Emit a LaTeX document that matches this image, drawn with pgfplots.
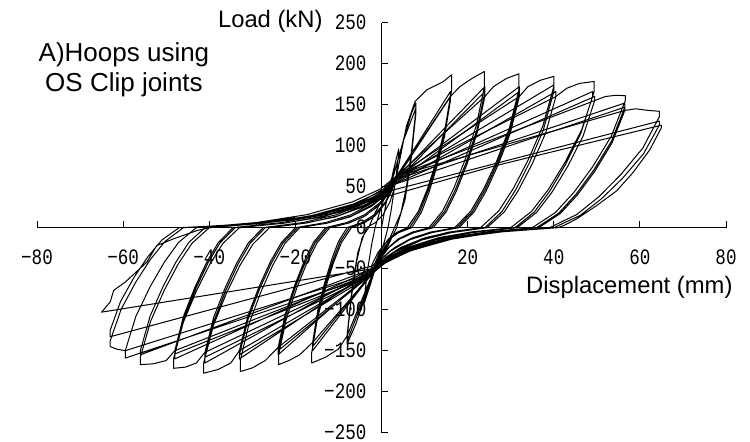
\documentclass[border=0pt]{standalone}
\usepackage{fontspec}
\setmainfont{Liberation Sans}
\newfontfamily\tickfont[FakeStretch=0.8]{Liberation Mono}
\usepackage{pgfplots}
\pgfplotsset{compat=1.18}
\pgfplotsset{cyc/.style={black, line width=0.5pt, line join=round, mark=none}}
\begin{document}
\begin{tikzpicture}
\path[use as bounding box] (-18.5pt,-4.5pt) rectangle (356.5pt,216.35pt);
\begin{axis}[
 at={(0,0)}, anchor=south west,
 scale only axis, width=344.5pt, height=205pt,
 xmin=-80, xmax=80, ymin=-250, ymax=250,
 axis lines=middle,
 axis line style={black, line width=0.5pt, -},
 xtick={-80,-60,...,80}, xticklabels={−80,−60,−40,−20,,20,40,60,80},
 ytick={-250,-200,...,250}, yticklabels={−250,−200,−150,−100,−50,0,50,100,150,200,250},
 hide obscured x ticks=false, hide obscured y ticks=false,
 tick align=inside, major tick length=3.2pt,
 tick style={black, line width=0.5pt},
 ticklabel style={font=\tickfont\fontsize{11}{12}\selectfont},
 xticklabel style={yshift=-7.5pt},
 yticklabel style={xshift=-4pt},
 clip=false, enlargelimits=false,
]
% small cycles and 16 mm
\addplot[cyc] coordinates {(0,0) (1,28) (2,52) (3,75) (4,96) (4,90) (3.2,55) (2.2,20) (1.5,0) (0.5,-20) (-1,-42) (-2.5,-68) (-4,-92) (-4,-86) (-3.2,-50) (-2.2,-18) (-1.5,0) (-0.5,18) (1,42) (2.5,62) (4,85) (5.5,115) (7,140) (8,152) (8,145) (7,95) (5.8,50) (4.5,18) (3,0) (1.5,-18) (0,-35) (-2,-55) (-4,-88) (-6,-118) (-8,-142) (-8,-135) (-7,-85) (-5.8,-42) (-4.5,-12) (-3,0) (-1.5,18) (0.5,38) (2.5,58) (5,105) (8,146) (8,140) (6.8,80) (5.5,35) (3.5,0) (1.5,-22) (-1,-45) (-4,-85) (-8,-138) (-8,-132) (-6.8,-72) (-5.5,-30) (-3.5,0)
(-1.4,6.3) (0.35,15.8) (1.96,31.5) (2.94,47.3) (3.5,63) (5.8,124) (7.8,154) (10.5,168) (14.3,178) (16.3,186.5) (16.3,168) (14.76,121) (12.7,80.6) (10.64,47) (8.58,20.2) (6,0) (3.6,-5.5) (1.6,-13.8) (-0.24,-27.5) (-1.36,-41.3) (-2,-55) (-8,-132) (-10,-148) (-13,-158) (-16.2,-165) (-16.2,-152) (-14.82,-109.4) (-12.98,-73) (-11.14,-42.6) (-9.3,-18.2) (-7,0)
(-4,5.8) (-1.5,14.5) (0.8,29) (2.2,43.5) (3,58) (16,166) (16,160) (14.58,115.2) (12.68,76.8) (10.78,44.8) (8.88,19.2) (6.5,0) (4.25,-4.8) (2.38,-12) (0.65,-24) (-0.4,-36) (-1,-48) (-16,-150) (-16,-145) (-14.73,-104.4) (-13.03,-69.6) (-11.33,-40.6) (-9.63,-17.4) (-7.5,0)
(-4.5,5.2) (-2,13) (0.3,26) (1.7,39) (2.5,52) (16,160) (16,155) (14.65,111.6) (12.85,74.4) (11.05,43.4) (9.25,18.6) (7,0) (4,-6) (1.5,-15) (-0.8,-30) (-2.2,-45) (-3,-60) (-16,-145) (-16,-140) (-14.8,-100.8) (-13.2,-67.2) (-11.6,-39.2) (-10,-16.8) (-8,0)};
% 24 mm
\addplot[cyc] coordinates {(-8,0) (-4.55,6.3) (-1.68,15.8) (0.97,31.5) (2.58,47.3) (3.5,63) (16,160) (18.2,172) (21,182) (23.9,190.5) (23.9,172) (21.97,123.8) (19.39,82.6) (16.8,48.2) (14.23,20.6) (11,0) (7.1,-5.5) (3.85,-13.8) (0.86,-27.5) (-0.96,-41.3) (-2,-55) (-16,-140) (-19,-155) (-21.5,-162) (-23.9,-167) (-23.9,-155) (-22.12,-111.6) (-19.74,-74.4) (-17.36,-43.4) (-14.98,-18.6) (-12,0)
(-7.5,5.8) (-3.75,14.5) (-0.3,29) (1.8,43.5) (3,58) (24,172) (24,165) (22.13,118.8) (19.63,79.2) (17.13,46.2) (14.63,19.8) (11.5,0) (7.75,-4.8) (4.63,-12) (1.75,-24) (0,-36) (-1,-48) (-24,-155) (-24,-150) (-22.28,-108) (-19.98,-72) (-17.68,-42) (-15.38,-18) (-12.5,0)
(-8,5.2) (-4.25,13) (-0.8,26) (1.3,39) (2.5,52) (24,166) (24,160) (22.2,115.2) (19.8,76.8) (17.4,44.8) (15,19.2) (12,0) (7.5,-6) (3.75,-15) (0.3,-30) (-1.8,-45) (-3,-60) (-24,-150) (-24,-146) (-22.35,-105.1) (-20.15,-70.1) (-17.95,-40.9) (-15.75,-17.5) (-13,0)};
% 32 mm
\addplot[cyc] coordinates {(-13,0) (-8.05,6.3) (-3.93,15.8) (-0.13,31.5) (2.18,47.3) (3.5,63) (24,160) (26,172) (29,182) (31.9,187.7) (31.9,168) (29.67,121) (26.69,80.6) (23.71,47) (20.73,20.2) (17,0) (11.3,-5.5) (6.55,-13.8) (2.18,-27.5) (-0.48,-41.3) (-2,-55) (-24,-146) (-27,-162) (-30,-171) (-32.8,-175.5) (-32.8,-162) (-30.73,-116.6) (-27.97,-77.8) (-25.21,-45.4) (-22.45,-19.4) (-19,0)
(-12.4,5.8) (-6.9,14.5) (-1.84,29) (1.24,43.5) (3,58) (32,172) (32,165) (29.83,118.8) (26.93,79.2) (24.03,46.2) (21.13,19.8) (17.5,0) (11.95,-4.8) (7.33,-12) (3.07,-24) (0.48,-36) (-1,-48) (-33,-160) (-33,-155) (-30.98,-111.6) (-28.28,-74.4) (-25.58,-43.4) (-22.88,-18.6) (-19.5,0)
(-12.9,5.2) (-7.4,13) (-2.34,26) (0.74,39) (2.5,52) (32,166) (32,160) (29.9,115.2) (27.1,76.8) (24.3,44.8) (21.5,19.2) (18,0) (11.7,-6) (6.45,-15) (1.62,-30) (-1.32,-45) (-3,-60) (-33,-155) (-33,-150) (-31.05,-108) (-28.45,-72) (-25.85,-42) (-23.25,-18) (-20,0)};
% 40 mm
\addplot[cyc] coordinates {(-20,0) (-12.95,6.3) (-7.08,15.8) (-1.67,31.5) (1.62,47.3) (3.5,63) (32,160) (34,172) (37,180) (40,184.5) (40,172) (37.45,123.8) (34.05,82.6) (30.65,48.2) (27.25,20.6) (23,0) (15.5,-5.5) (9.25,-13.8) (3.5,-27.5) (0,-41.3) (-2,-55) (-33,-150) (-35,-165) (-38,-173) (-41.3,-177.5) (-41.3,-165) (-39.01,-118.8) (-35.95,-79.2) (-32.89,-46.2) (-29.83,-19.8) (-26,0)
(-17.3,5.8) (-10.05,14.5) (-3.38,29) (0.68,43.5) (3,58) (40,174) (40,166) (37.6,119.5) (34.4,79.7) (31.2,46.5) (28,19.9) (24,0) (16.5,-4.8) (10.25,-12) (4.5,-24) (1,-36) (-1,-48) (-41,-165) (-41,-158) (-38.9,-113.8) (-36.1,-75.8) (-33.3,-44.2) (-30.5,-19) (-27,0)
(-18.15,5.2) (-10.78,13) (-3.99,26) (0.14,39) (2.5,52) (40.5,166) (40.5,160) (38.1,115.2) (34.9,76.8) (31.7,44.8) (28.5,19.2) (24.5,0) (16.25,-6) (9.38,-15) (3.05,-30) (-0.8,-45) (-3,-60) (-41,-158) (-41,-152) (-38.98,-109.4) (-36.28,-73) (-33.58,-42.6) (-30.88,-18.2) (-27.5,0)};
% 49 mm
\addplot[cyc] coordinates {(-27.5,0) (-18.2,6.3) (-10.45,15.8) (-3.32,31.5) (1.02,47.3) (3.5,63) (40.5,160) (43,170) (46,176) (49.4,178.4) (49.4,166) (46.49,119.5) (42.61,79.7) (38.73,46.5) (34.85,19.9) (30,0) (20.4,-5.5) (12.4,-13.8) (5.04,-27.5) (0.56,-41.3) (-2,-55) (-41,-152) (-43,-165) (-45.5,-170) (-48.3,-171.5) (-48.3,-160) (-46.01,-115.2) (-42.95,-76.8) (-39.89,-44.8) (-36.83,-19.2) (-33,0)
(-22.2,5.8) (-13.2,14.5) (-4.92,29) (0.12,43.5) (3,58) (49,166) (49,160) (46.3,115.2) (42.7,76.8) (39.1,44.8) (35.5,19.2) (31,0) (21.4,-4.8) (13.4,-12) (6.04,-24) (1.56,-36) (-1,-48) (-48,-160) (-48,-154) (-45.9,-110.9) (-43.1,-73.9) (-40.3,-43.1) (-37.5,-18.5) (-34,0)
(-23.05,5.2) (-13.93,13) (-5.53,26) (-0.42,39) (2.5,52) (49.5,160) (49.5,155) (46.8,111.6) (43.2,74.4) (39.6,43.4) (36,18.6) (31.5,0) (21.15,-6) (12.53,-15) (4.59,-30) (-0.24,-45) (-3,-60) (-48,-154) (-48,-150) (-45.98,-108) (-43.28,-72) (-40.58,-42) (-37.88,-18) (-34.5,0)};
% 57 mm
\addplot[cyc] coordinates {(-34.5,0) (-23.1,6.3) (-13.6,15.8) (-4.86,31.5) (0.46,47.3) (3.5,63) (49.5,155) (52,160) (54.5,161.5) (56.6,161) (56.6,155) (53.36,111.6) (49.04,74.4) (44.72,43.4) (40.4,18.6) (35,0) (23.9,-5.5) (14.65,-13.8) (6.14,-27.5) (0.96,-41.3) (-2,-55) (-48,-150) (-50,-162) (-53,-166) (-56,-167) (-56,-158) (-53.6,-113.8) (-50.4,-75.8) (-47.2,-44.2) (-44,-19) (-40,0)
(-27.1,5.8) (-16.35,14.5) (-6.46,29) (-0.44,43.5) (3,58) (56.5,152) (56.5,147) (53.43,105.8) (49.33,70.6) (45.23,41.2) (41.13,17.6) (36,0) (24.9,-4.8) (15.65,-12) (7.14,-24) (1.96,-36) (-1,-48) (-56,-155) (-56,-150) (-53.75,-108) (-50.75,-72) (-47.75,-42) (-44.75,-18) (-41,0)
(-27.95,5.2) (-17.08,13) (-7.07,26) (-0.98,39) (2.5,52) (56.5,147) (56.5,143) (53.5,103) (49.5,68.6) (45.5,40) (41.5,17.2) (36.5,0) (24.65,-6) (14.78,-15) (5.69,-30) (0.16,-45) (-3,-60) (-59.5,-159) (-59.5,-150) (-57.03,-108) (-53.73,-72) (-50.43,-42) (-47.13,-18) (-43,0)};
% 64 mm
\addplot[cyc] coordinates {(-43,0) (-29.05,6.3) (-17.43,15.8) (-6.73,31.5) (-0.22,47.3) (3.5,63) (56.5,143) (59,145) (62,143) (64.5,142) (64.5,135) (60.68,97.2) (55.58,64.8) (50.48,37.8) (45.38,16.2) (39,0) (26.7,-5.5) (16.45,-13.8) (7.02,-27.5) (1.28,-41.3) (-2,-55) (-59.5,-150) (-61.5,-148) (-63,-145) (-63,-138) (-60.45,-99.4) (-57.05,-66.2) (-53.65,-38.6) (-50.25,-16.6) (-46,0)
(-31.6,4.5) (-19.6,11.3) (-8.56,22.5) (-1.84,33.8) (2,45) (64.5,130) (64.5,125) (60.83,90) (55.93,60) (51.03,35) (46.13,15) (40,0) (27.7,-4.5) (17.45,-11.3) (8.02,-22.5) (2.28,-33.8) (-1,-45) (-63,-133) (-63,-125) (-60.6,-90) (-57.4,-60) (-54.2,-35) (-51,-15) (-47,0)
(-32.75,3.7) (-20.88,9.3) (-9.95,18.5) (-3.3,27.8) (0.5,37) (26,75) (65,125) (65,122) (62.3,95) (58.4,67.2) (54.6,44.9) (49.9,26.7) (45.3,10.6) (42.2,2.4) (41,0) (28.1,-5) (17.35,-12.5) (7.46,-25) (1.44,-37.5) (-2,-50) (-65,-103) (-63,-90.5) (-62.2,-76.5) (-59.5,-66.3) (-54.5,-42) (-52.2,-21.8) (-48.3,-13.6) (-42.9,-3.6) (-40,0) (-30,5) (-20,12)};
\node[anchor=base east, inner sep=0pt, font=\fontsize{11.9}{14}\selectfont] at (axis cs:-13.6,244.4) {Load (kN)};
\node[anchor=base east, inner sep=0pt, font=\fontsize{11.9}{14}\selectfont] at (axis cs:81.6,-80) {Displacement (mm)};
\node[anchor=base, inner sep=0pt, font=\fontsize{13}{15}\selectfont] at (axis cs:-59.8,202.4) {A)Hoops using};
\node[anchor=base, inner sep=0pt, font=\fontsize{13}{15}\selectfont] at (axis cs:-59.8,165.9) {OS Clip joints};
\end{axis}
\end{tikzpicture}
\end{document}
